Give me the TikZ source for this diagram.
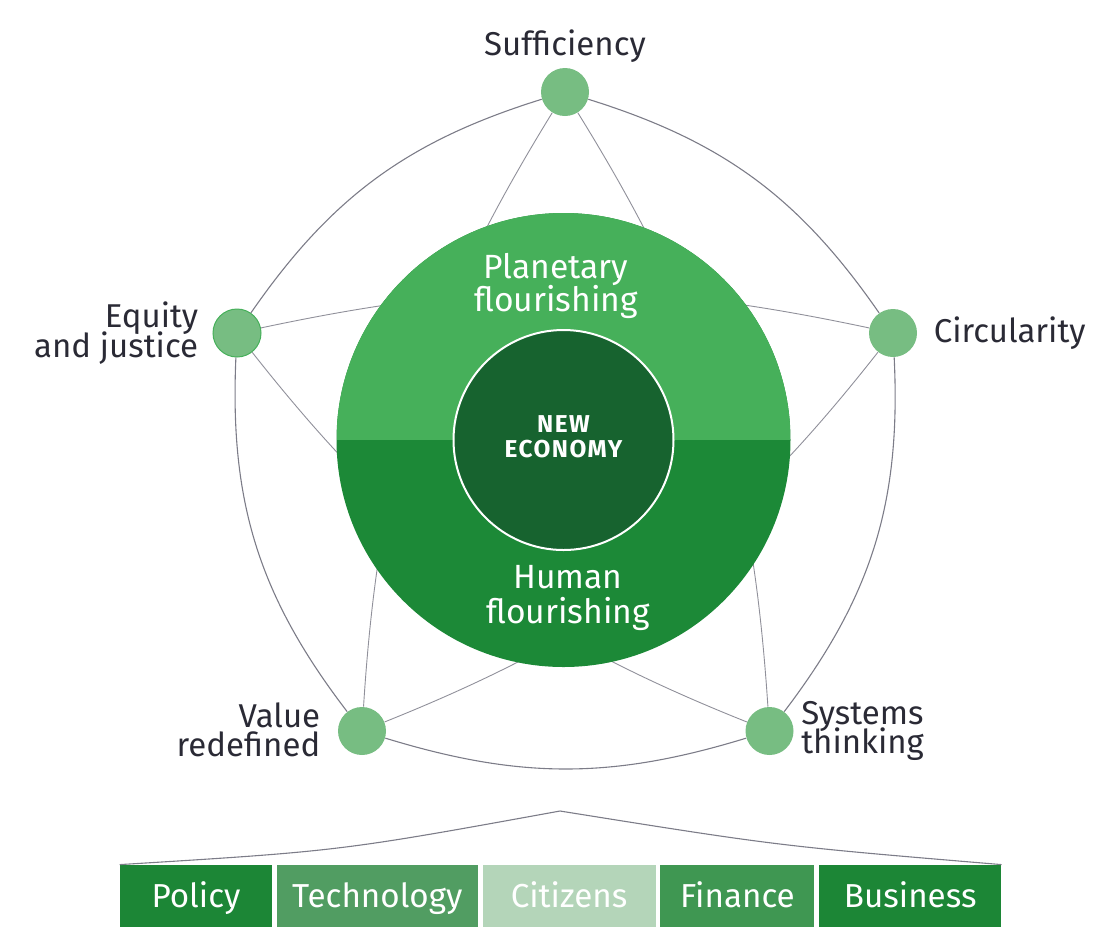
\documentclass[tikz,border=0pt]{standalone}
\usepackage{fontspec}
\setmainfont{Fira Sans}
\usetikzlibrary{positioning}
\definecolor{planet}{HTML}{46B05A}
\definecolor{human}{HTML}{1C8937}
\definecolor{coregreen}{HTML}{17632F}
\definecolor{themegreen}{HTML}{77BD82}
\definecolor{edgegray}{HTML}{7C7C88}
\definecolor{ink}{HTML}{2A2A35}
\definecolor{boxdark}{HTML}{1C8636}
\definecolor{boxmid}{HTML}{519D62}
\definecolor{boxpale}{HTML}{B4D5B9}
\definecolor{boxfin}{HTML}{3F9752}
\newcommand{\labelfont}{\fontsize{16.5}{14.8}\selectfont\lineskiplimit=-20pt}
\tikzset{
  theme/.style={circle,fill=themegreen,inner sep=0pt,minimum size=24pt},
  lbl/.style={text=ink,inner sep=0pt,font=\labelfont},
  rim/.style={draw=edgegray,line width=0.55pt},
  chord/.style={draw=edgegray!85,line width=0.45pt},
  actor/.style={fill=#1,text=white,minimum height=31pt,inner sep=0pt,
    text height=11.4pt,text depth=0pt,font=\fontsize{16.6}{18}\selectfont},
}
\begin{document}
\begin{tikzpicture}[x=0.5pt,y=-0.5pt]
  \useasboundingbox (0,0) rectangle (1120,934);
  % the five themes
  \node[theme] (suff) at (565,92) {};
  \node[theme,draw=planet,line width=0.5pt] (equity) at (237,333) {};
  \node[theme] (circ) at (893,333) {};
  \node[theme] (value) at (362,731) {};
  \node[theme] (systems) at (769.5,731) {};
  % outer links
  \draw[rim] (suff) to[bend right=19] (equity);
  \draw[rim] (equity) to[bend right=20] (value);
  \draw[rim] (value) to[bend right=17] (systems);
  \draw[rim] (systems) to[bend right=20] (circ);
  \draw[rim] (circ) to[bend right=19] (suff);
  % star links, partly hidden by the ring
  \draw[chord] (suff) to[bend right=14] (value);
  \draw[chord] (value) to[bend right=15] (circ);
  \draw[chord] (circ) to[bend right=12] (equity);
  \draw[chord] (equity) to[bend right=15] (systems);
  \draw[chord] (systems) to[bend right=14] (suff);
  % centre
  \node[circle,minimum size=227pt,inner sep=0pt,fill=human,
    path picture={\fill[planet] (path picture bounding box.north west) rectangle (path picture bounding box.east);}] (ring) at (563.5,440) {};
  \node[circle,minimum size=110pt,inner sep=0pt,fill=coregreen,draw=white,line width=1pt] (core) at (ring.center) {};
  \node[text=white,align=center,inner sep=0pt,
    font=\bfseries\fontsize{12.2}{12.6}\selectfont\addfontfeatures{LetterSpace=6}] (newecon) at (563.5,437) {NEW\\ECONOMY};
  \node[text=white,align=center,inner sep=0pt,font=\fontsize{16.8}{16.8}\selectfont] (planetary) at (556,286) {Planetary\\flourishing};
  \node[text=white,align=center,inner sep=0pt,font=\fontsize{16.8}{17.2}\selectfont] (humanfl) at (568,598) {Human\\flourishing};
  % labels
  \node[lbl,above=2.2pt of suff] (sufflbl) {Sufficiency};
  \node[lbl,align=right,left=7pt of equity] (equitylbl) {Equity\\and justice};
  \node[lbl,right=8pt of circ] (circlbl) {Circularity};
  \node[lbl,align=right,left=8.5pt of value,yshift=0.5pt] (valuelbl) {Value\\redefined};
  \node[lbl,align=left,right=3.5pt of systems] (systemslbl) {Systems\\thinking};
  % actors
  \node[actor=boxdark,minimum width=76pt] (policy) at (196,896) {Policy};
  \node[actor=boxmid,minimum width=100.5pt,right=2pt of policy] (tech) {Technology};
  \node[actor=boxpale,minimum width=86.5pt,right=2pt of tech] (citizens) {Citizens};
  \node[actor=boxfin,minimum width=77pt,right=2pt of citizens] (finance) {Finance};
  \node[actor=boxdark,minimum width=91pt,right=2pt of finance] (business) {Business};
  \coordinate (apex) at (560,811);
  \draw[rim] (policy.north west) .. controls (340,851) .. (apex) .. controls (779,846) .. (business.north east);
\end{tikzpicture}
\end{document}
